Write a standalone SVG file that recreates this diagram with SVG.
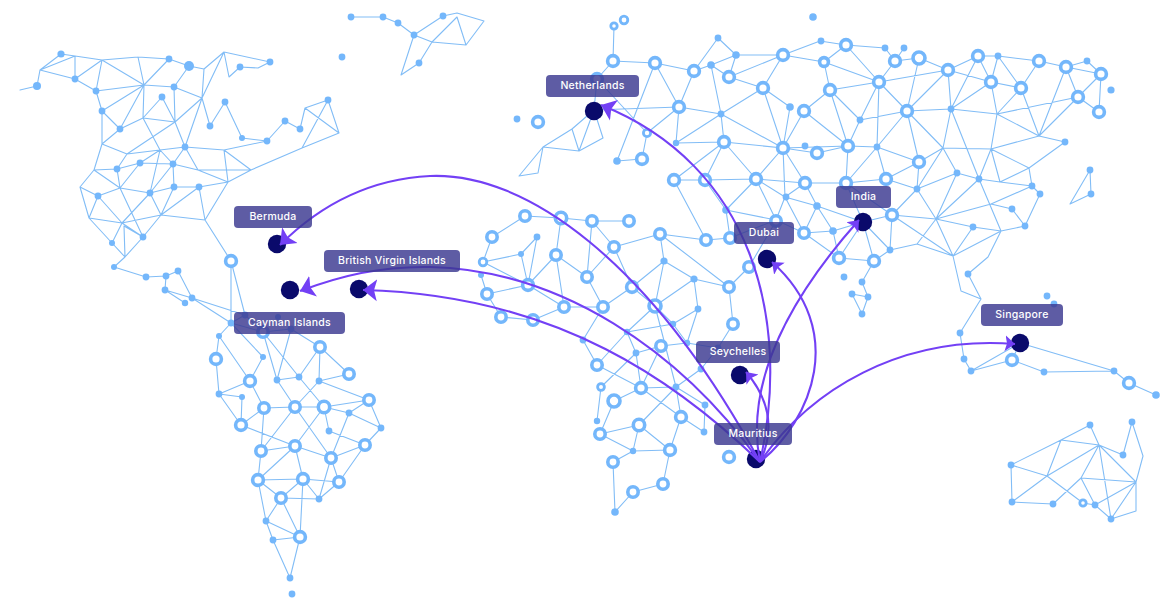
<svg xmlns="http://www.w3.org/2000/svg" width="1173" height="615" viewBox="0 0 1173 615">
<defs>
<style>
.l{fill:none;stroke:#82bdf6;stroke-width:1.1;stroke-linejoin:round;stroke-linecap:round}
.d{fill:#74b7fb}
.r{fill:#fff;stroke:#74b7fb;stroke-width:3.6}
.s{fill:#fff;stroke:#74b7fb;stroke-width:2.8}
.p{fill:#0a0a6b}
.a{fill:none;stroke:#7340f5;stroke-width:2.1}
.b{fill:#3a3890;fill-opacity:.82}
.t{fill:#fff;font-family:Inter,"Open Sans",sans-serif;font-size:10.5px;font-weight:500;text-anchor:middle;letter-spacing:.25px}
</style>
<marker id="big" markerUnits="userSpaceOnUse" markerWidth="15" markerHeight="24" viewBox="0 0 15 24" refX="14" refY="12" orient="auto"><path d="M0 1L14 12L0 23L3 12Z" fill="#7340f5"/></marker>
<marker id="small" markerUnits="userSpaceOnUse" markerWidth="11" markerHeight="18" viewBox="0 0 11 18" refX="10" refY="9" orient="auto"><path d="M0 1L10 9L0 17L2 9Z" fill="#7340f5"/></marker>
</defs>
<g id="map">
<path class="l" d="M20 90L37 86L40 70L61 54L75 56L40 70L75 79L75 56M75 79L102 60L75 56M75 79L96 91L102 60L138 57L169 59L189 66L204 69L202 98L224 52L229 77L240 67L258 68L270 62L224 52L204 69M102 60L144 85L138 57M96 91L144 85L102 111L96 91M120 129L144 85L169 59M144 85L174 87L189 66M174 87L202 98L175 122L174 87M144 85L143 118L162 97L175 122L143 118L120 129L102 111L102 144L120 129M202 98L210 126L225 102L242 138L267 141L285 121L300 129L305 108L328 100L339 133L305 108M328 100L302 148L339 133M302 148L251 170L228 182L224 150L251 170L198 170L228 182M185 147L224 150L267 141M202 98L185 147L175 122L127 154L160 150L185 147L173 164L198 170L185 147M143 118L160 150L173 164M102 144L127 154L117 169L94 170L102 144M94 170L80 187L89 218L98 196L80 187M117 169L140 163L160 150M140 163L173 164L198 170M117 169L120 188L140 163M94 170L120 188L150 193L160 150M173 164L150 193L174 187L173 164M150 193L122 223L161 215L150 193M174 187L199 187L228 182L205 220L161 215L174 187M199 187L205 220L231 261M199 187L161 215L143 237L125 257L112 243L122 223L143 237L120 188L98 196L122 223L89 218L112 243M124 226L143 237M124 226L125 257L114 267L146 277L166 276L178 271L192 298L165 290L166 276M165 290L185 303"/>
<path class="l" d="M351 17L383 17L398 23L414 35L443 16L457 13L484 21L466 45L457 17L432 42L466 45M414 35L432 42L419 63L401 75L414 35"/>
<path class="l" d="M231 261L231 323L245 315L231 261M192 298L245 315M192 298L231 323L219 336L216 359L219 394L250 381L219 336M231 323L263 357L250 381L264 408L241 425L219 394L242 397L241 425L295 446L331 458L295 407L264 408L261 451L295 446L258 480L261 451L295 407L277 380L263 332L299 377L277 380L291 329L263 332L231 323M245 315L263 332M291 329L320 347L299 377L324 407L295 407L319 381L320 347L349 374L319 381L369 400L324 407L295 446M324 407L349 413L369 400L381 428L349 413L331 458L365 445L381 428M324 407L329 431L365 445L339 482L331 458L319 499L339 482L303 479L295 446M258 480L303 479L281 498L258 480L266 521L273 540L300 537L281 498L319 499L303 479L300 537L290 578L273 540M281 498L266 521L300 537"/>
<path class="l" d="M525 216L561 218L592 221L629 221M525 216L492 237L483 262L521 254L537 237L528 285L521 254M483 262L528 285L487 294L481 275M528 285L556 255L561 218M592 221L587 277L556 255L564 307L528 285M564 307L603 307L587 277L614 247L592 221M614 247L660 234L706 240L730 238M614 247L632 287L603 307L583 340L597 365L641 388L636 353L627 332L597 365M632 287L664 261L660 234L729 287L694 279L664 261L655 306L694 279L698 309L673 324L655 306L632 287M729 287L733 324L718 348L701 369L676 387L641 388L661 346L636 353L601 387L597 421M729 287L749 267L776 221M564 307L533 320L501 317L487 294M627 332L673 324L687 343L698 309M627 332L655 306L676 387L705 405L704 432L681 417L676 387L639 425L600 434L614 401L641 388L681 417L670 450L633 451L639 425L670 450L663 484L633 492L615 512L613 462L633 451L600 434M687 343L661 346M687 343L718 348M639 425L676 387"/>
<path class="l" d="M614 26L613 61L655 63L694 71L711 65L736 55L783 55L820 41L846 45L879 82L824 62L846 45M718 38L694 71L679 107L655 63L617 161L642 159L647 133L679 107L594 110L597 79L613 61M718 38L736 55L729 77L783 55L824 62L830 90L879 82L895 61L885 48L846 45M711 65L729 77L763 88L783 55M783 148L763 88L721 114L711 65M679 107L721 114L724 142L676 143L679 107M721 114L676 143M721 114L783 148L724 142L674 180L705 180L724 142L756 179L705 180L726 210L756 179L805 183L783 148L756 179L776 220L785 197L756 179M783 148L785 197L805 183L817 206L785 197L804 233L817 206L833 231L804 233L776 220M674 180L706 240M726 210L730 238L776 220M726 210L776 220M763 88L790 107L783 148L804 111L830 90L860 120L848 146L804 111M830 90L848 146L817 153L783 148M848 146L846 183L877 147L848 146L783 148M594 110L579 151L603 138L594 110L572 129L579 151L543 147L572 129M543 147L519 176L538 173L543 147M597 79L647 133M895 61L904 48M895 61L919 58L948 70L879 82L907 111L948 70L978 56L951 109L948 70L991 82L978 56L998 56L1039 61L1021 88L998 56L991 82L1021 88L997 114L991 82L951 109L997 114L1039 136L1021 88M919 58L907 111L860 120L879 82L877 147L907 111L951 109L943 148L907 111L919 162L877 147L886 179L846 183L805 183M1039 61L1066 67L1087 61L1101 74L1066 67L1078 97L1101 74L1099 112L1078 97L997 114M1066 67L1039 136L1078 97M1039 136L1065 142L1029 168L991 149L1039 136M1029 168L1000 182L979 179L991 149L943 148L919 162L917 189L943 148L957 173L979 179L951 109M997 114L991 149L1000 182L1032 186L1029 168M1032 186L1040 194L1025 226L1012 209L991 204L1032 186M886 179L919 162M886 179L917 189L892 215L846 183L863 222L892 215L890 250L917 244L953 256L892 215M917 189L957 173L936 219L917 189M936 219L979 179L1001 231L973 227L936 219L991 204M936 219L892 215M936 219L917 244M936 219L953 256L973 227M953 256L1001 231L1025 226M1001 231L988 257L968 274L981 299L961 291L953 256M981 299L960 333L964 359L971 371L1012 360L1044 372L1114 371L1129 383L1156 395M971 371L1020 343L1114 371M1012 360L1020 343M817 206L863 222L833 231M863 222L890 250L874 261L863 222L839 258L874 261L862 282M804 233L839 258M833 231L839 258M852 294L868 297L862 314L852 294M862 282L868 297M1090 170L1070 204L1091 194L1090 170"/>
<path class="l" d="M1090 425L1061 440L1011 465L1012 502L1053 504L1081 478L1136 482L1136 511L1111 519L1136 482L1143 456L1132 422L1123 455L1099 445L1090 425M1061 440L1099 445L1136 482L1095 505L1081 478L1099 445L1111 519L1095 505L1083 503L1047 476L1099 445M1061 440L1047 476L1011 465M1012 502L1047 476"/>
<g id="dots">
<circle class="d" cx="61" cy="54" r="3.6"/><circle class="d" cx="75" cy="79" r="3.4"/><circle class="d" cx="96" cy="91" r="3.4"/><circle class="d" cx="102" cy="111" r="3.4"/><circle class="d" cx="120" cy="129" r="3.4"/><circle class="d" cx="169" cy="59" r="3.4"/><circle class="d" cx="189" cy="66" r="5"/><circle class="d" cx="174" cy="87" r="3.4"/><circle class="d" cx="162" cy="97" r="3.4"/><circle class="d" cx="240" cy="67" r="3.4"/><circle class="d" cx="270" cy="62" r="3.4"/><circle class="d" cx="225" cy="102" r="3.4"/><circle class="d" cx="210" cy="126" r="3.4"/><circle class="d" cx="242" cy="138" r="3"/><circle class="d" cx="267" cy="141" r="3.4"/><circle class="d" cx="285" cy="121" r="3.4"/><circle class="d" cx="300" cy="129" r="3.4"/><circle class="d" cx="328" cy="100" r="3.4"/><circle class="d" cx="185" cy="147" r="3.4"/><circle class="d" cx="140" cy="163" r="3.4"/><circle class="d" cx="117" cy="169" r="3.4"/><circle class="d" cx="173" cy="164" r="3.4"/><circle class="d" cx="98" cy="196" r="3.4"/><circle class="d" cx="150" cy="193" r="3.4"/><circle class="d" cx="174" cy="187" r="3.4"/><circle class="d" cx="199" cy="187" r="3.4"/><circle class="d" cx="143" cy="237" r="3.4"/><circle class="d" cx="112" cy="243" r="3"/><circle class="d" cx="114" cy="267" r="3"/><circle class="d" cx="146" cy="277" r="3.4"/><circle class="d" cx="166" cy="276" r="3.4"/><circle class="d" cx="178" cy="271" r="3.4"/><circle class="d" cx="165" cy="290" r="3.4"/><circle class="d" cx="192" cy="298" r="3.4"/><circle class="d" cx="185" cy="303" r="3.2"/>
<circle class="d" cx="351" cy="17" r="3.4"/><circle class="d" cx="383" cy="17" r="3.4"/><circle class="d" cx="398" cy="23" r="3.4"/><circle class="d" cx="414" cy="35" r="3.4"/><circle class="d" cx="443" cy="16" r="3.4"/><circle class="d" cx="419" cy="63" r="3.4"/><circle class="d" cx="342" cy="57" r="3.4"/>
<circle class="d" cx="245" cy="315" r="3.4"/><circle class="d" cx="231" cy="323" r="3.4"/><circle class="d" cx="219" cy="336" r="3"/><circle class="d" cx="278" cy="317" r="3"/><circle class="d" cx="291" cy="329" r="3.4"/><circle class="d" cx="263" cy="357" r="3"/><circle class="d" cx="299" cy="377" r="3.4"/><circle class="d" cx="277" cy="380" r="3.4"/><circle class="d" cx="319" cy="381" r="3.4"/><circle class="d" cx="219" cy="394" r="3.4"/><circle class="d" cx="242" cy="397" r="3"/><circle class="d" cx="349" cy="413" r="3.4"/><circle class="d" cx="329" cy="431" r="3.4"/><circle class="d" cx="381" cy="428" r="3.4"/><circle class="d" cx="319" cy="499" r="3.4"/><circle class="d" cx="266" cy="521" r="3.4"/><circle class="d" cx="273" cy="540" r="3.4"/><circle class="d" cx="290" cy="578" r="3.4"/><circle class="d" cx="292" cy="594" r="3.4"/>
<circle class="d" cx="537" cy="237" r="3.4"/><circle class="d" cx="521" cy="254" r="3"/><circle class="d" cx="481" cy="275" r="3"/><circle class="d" cx="664" cy="261" r="3.6"/><circle class="d" cx="694" cy="279" r="3.6"/><circle class="d" cx="698" cy="309" r="3.4"/><circle class="d" cx="673" cy="324" r="3.2"/><circle class="d" cx="627" cy="332" r="3.2"/><circle class="d" cx="583" cy="340" r="3.4"/><circle class="d" cx="687" cy="343" r="3.2"/><circle class="d" cx="636" cy="353" r="3.4"/><circle class="d" cx="718" cy="348" r="3.4"/><circle class="d" cx="701" cy="369" r="3.4"/><circle class="d" cx="676" cy="387" r="3.4"/><circle class="d" cx="705" cy="405" r="3.4"/><circle class="d" cx="704" cy="432" r="3.4"/><circle class="d" cx="597" cy="421" r="3.2"/><circle class="d" cx="633" cy="451" r="3.2"/><circle class="d" cx="615" cy="512" r="3.8"/>
<circle class="d" cx="813" cy="17" r="3.8"/><circle class="d" cx="718" cy="38" r="3.4"/><circle class="d" cx="736" cy="55" r="3.8"/><circle class="d" cx="711" cy="65" r="3.8"/><circle class="d" cx="821" cy="41" r="3.4"/><circle class="d" cx="517" cy="119" r="3.4"/><circle class="d" cx="790" cy="107" r="3.8"/><circle class="d" cx="721" cy="114" r="3.4"/><circle class="d" cx="676" cy="143" r="3.2"/><circle class="d" cx="805" cy="146" r="3.4"/><circle class="d" cx="617" cy="161" r="3.8"/><circle class="d" cx="786" cy="197" r="3.4"/><circle class="d" cx="817" cy="206" r="3.8"/><circle class="d" cx="726" cy="210" r="3.8"/><circle class="d" cx="885" cy="48" r="3.4"/><circle class="d" cx="904" cy="48" r="3.4"/><circle class="d" cx="998" cy="56" r="3.4"/><circle class="d" cx="1087" cy="61" r="3.4"/><circle class="d" cx="1111" cy="90" r="3.6"/><circle class="d" cx="860" cy="120" r="3.4"/><circle class="d" cx="951" cy="109" r="3.4"/><circle class="d" cx="877" cy="147" r="3.4"/><circle class="d" cx="1065" cy="142" r="3.4"/><circle class="d" cx="957" cy="173" r="3.4"/><circle class="d" cx="979" cy="179" r="3.4"/><circle class="d" cx="1090" cy="170" r="3.4"/><circle class="d" cx="1091" cy="194" r="3.4"/><circle class="d" cx="1032" cy="186" r="3.4"/><circle class="d" cx="1040" cy="194" r="3.4"/><circle class="d" cx="917" cy="189" r="3.4"/><circle class="d" cx="1012" cy="209" r="3.4"/><circle class="d" cx="1025" cy="226" r="3.4"/><circle class="d" cx="973" cy="227" r="3.4"/><circle class="d" cx="833" cy="231" r="3.8"/><circle class="d" cx="890" cy="250" r="3.4"/><circle class="d" cx="844" cy="277" r="3.4"/><circle class="d" cx="862" cy="282" r="3.4"/><circle class="d" cx="852" cy="294" r="3.4"/><circle class="d" cx="868" cy="297" r="3.4"/><circle class="d" cx="862" cy="314" r="3.4"/><circle class="d" cx="968" cy="274" r="3.4"/><circle class="d" cx="1047" cy="296" r="3.4"/><circle class="d" cx="1054" cy="304" r="3.4"/><circle class="d" cx="960" cy="333" r="3.4"/><circle class="d" cx="964" cy="359" r="3.4"/><circle class="d" cx="971" cy="371" r="3.4"/><circle class="d" cx="1044" cy="372" r="3.4"/><circle class="d" cx="1114" cy="371" r="3.4"/><circle class="d" cx="1156" cy="395" r="3.8"/>
<circle class="d" cx="1090" cy="425" r="3.4"/><circle class="d" cx="1132" cy="422" r="3.4"/><circle class="d" cx="1123" cy="455" r="3.4"/><circle class="d" cx="1011" cy="465" r="3.4"/><circle class="d" cx="1012" cy="502" r="3.4"/><circle class="d" cx="1053" cy="504" r="3.4"/><circle class="d" cx="1095" cy="505" r="3.4"/><circle class="d" cx="1111" cy="519" r="3.4"/><circle class="d" cx="37" cy="86" r="4"/>
</g>
<g id="rings">
<circle class="r" cx="231" cy="261" r="5.4"/><circle class="r" cx="263" cy="332" r="5.2"/><circle class="r" cx="216" cy="359" r="5.4"/><circle class="r" cx="320" cy="347" r="5.2"/><circle class="r" cx="250" cy="381" r="5.4"/><circle class="r" cx="349" cy="374" r="5.2"/><circle class="r" cx="295" cy="407" r="5.2"/><circle class="r" cx="264" cy="408" r="5.2"/><circle class="r" cx="324" cy="407" r="5.7"/><circle class="r" cx="369" cy="400" r="5.2"/><circle class="r" cx="241" cy="425" r="5.4"/><circle class="r" cx="295" cy="446" r="5.2"/><circle class="r" cx="261" cy="451" r="5.2"/><circle class="r" cx="331" cy="458" r="5.2"/><circle class="r" cx="365" cy="445" r="5.2"/><circle class="r" cx="258" cy="480" r="5.4"/><circle class="r" cx="303" cy="479" r="5.4"/><circle class="r" cx="339" cy="482" r="5.2"/><circle class="r" cx="281" cy="498" r="5.2"/><circle class="r" cx="300" cy="537" r="5.4"/>
<circle class="r" cx="525" cy="216" r="5.2"/><circle class="r" cx="561" cy="218" r="5.7"/><circle class="r" cx="592" cy="221" r="5.2"/><circle class="r" cx="629" cy="221" r="5.2"/><circle class="r" cx="492" cy="237" r="5.2"/><circle class="r" cx="660" cy="234" r="5.2"/><circle class="r" cx="706" cy="240" r="5.2"/><circle class="r" cx="614" cy="247" r="5.2"/><circle class="r" cx="730" cy="238" r="5.2"/><circle class="r" cx="776" cy="221" r="5.2"/><circle class="r" cx="804" cy="233" r="5.2"/><circle class="r" cx="556" cy="255" r="5.2"/><circle class="s" cx="483" cy="262" r="3.8"/><circle class="r" cx="587" cy="277" r="5.2"/><circle class="r" cx="528" cy="285" r="5.4"/><circle class="r" cx="632" cy="287" r="5.4"/><circle class="r" cx="729" cy="287" r="5.2"/><circle class="r" cx="749" cy="267" r="5.2"/><circle class="r" cx="487" cy="294" r="5.2"/><circle class="r" cx="655" cy="306" r="6"/><circle class="r" cx="564" cy="307" r="5.2"/><circle class="r" cx="603" cy="307" r="5.2"/><circle class="r" cx="501" cy="317" r="5.2"/><circle class="r" cx="533" cy="320" r="5.2"/><circle class="r" cx="733" cy="324" r="5.2"/><circle class="r" cx="661" cy="346" r="5.2"/><circle class="r" cx="597" cy="365" r="5.2"/><circle class="s" cx="601" cy="387" r="3.4"/><circle class="r" cx="641" cy="388" r="5.4"/><circle class="r" cx="614" cy="401" r="6"/><circle class="r" cx="681" cy="417" r="5.4"/><circle class="r" cx="639" cy="425" r="5.7"/><circle class="r" cx="600" cy="434" r="5.2"/><circle class="r" cx="670" cy="450" r="5.4"/><circle class="r" cx="613" cy="462" r="5.2"/><circle class="r" cx="663" cy="484" r="5.2"/><circle class="r" cx="633" cy="492" r="5.2"/><circle class="r" cx="729" cy="457" r="5.4"/>
<circle class="s" cx="624" cy="20" r="3.8"/><circle class="s" cx="614" cy="26" r="3.2"/><circle class="r" cx="613" cy="61" r="5.4"/><circle class="r" cx="655" cy="63" r="5.4"/><circle class="r" cx="694" cy="71" r="5.4"/><circle class="r" cx="783" cy="55" r="5.4"/><circle class="r" cx="824" cy="62" r="4.4"/><circle class="r" cx="729" cy="77" r="5.4"/><circle class="r" cx="763" cy="88" r="5.4"/><circle class="r" cx="830" cy="90" r="5.4"/><circle class="r" cx="597" cy="79" r="5.4"/><circle class="r" cx="679" cy="107" r="5.4"/><circle class="r" cx="804" cy="111" r="5.4"/><circle class="r" cx="538" cy="122" r="5.4"/><circle class="s" cx="647" cy="133" r="3.6"/><circle class="r" cx="724" cy="142" r="5.4"/><circle class="r" cx="783" cy="148" r="5.4"/><circle class="r" cx="817" cy="153" r="5.4"/><circle class="r" cx="642" cy="159" r="5.4"/><circle class="r" cx="674" cy="180" r="5.4"/><circle class="r" cx="705" cy="180" r="5.4"/><circle class="r" cx="756" cy="179" r="5.4"/><circle class="r" cx="805" cy="183" r="5.4"/>
<circle class="r" cx="846" cy="45" r="5.4"/><circle class="r" cx="895" cy="61" r="5.4"/><circle class="r" cx="919" cy="58" r="6"/><circle class="r" cx="948" cy="70" r="5.4"/><circle class="r" cx="978" cy="56" r="5.4"/><circle class="r" cx="991" cy="82" r="5.4"/><circle class="r" cx="1021" cy="88" r="5.4"/><circle class="r" cx="1039" cy="61" r="5.4"/><circle class="r" cx="1066" cy="67" r="5.4"/><circle class="r" cx="1101" cy="74" r="5.4"/><circle class="r" cx="1078" cy="97" r="5.4"/><circle class="r" cx="1099" cy="112" r="5.4"/><circle class="r" cx="879" cy="82" r="5.4"/><circle class="r" cx="907" cy="111" r="5.4"/><circle class="r" cx="848" cy="146" r="5.4"/><circle class="r" cx="919" cy="162" r="5.4"/><circle class="r" cx="886" cy="179" r="5.4"/><circle class="r" cx="846" cy="183" r="5.4"/><circle class="r" cx="892" cy="215" r="5.4"/><circle class="r" cx="839" cy="258" r="5.4"/><circle class="r" cx="874" cy="261" r="5.4"/><circle class="r" cx="1012" cy="360" r="5.4"/><circle class="r" cx="1129" cy="383" r="5.4"/><circle class="s" cx="1083" cy="503" r="3.2"/>
</g>
</g>
<g id="nodes">
<g id="node-netherlands"><circle class="p" cx="594" cy="111" r="9.2"/></g>
<g id="node-bermuda"><circle class="p" cx="277" cy="244" r="9.2"/></g>
<g id="node-cayman-islands"><circle class="p" cx="290" cy="290" r="9.2"/></g>
<g id="node-british-virgin-islands"><circle class="p" cx="359" cy="289" r="9.2"/></g>
<g id="node-dubai"><circle class="p" cx="767" cy="259" r="9.2"/></g>
<g id="node-india"><circle class="p" cx="863" cy="222" r="9.2"/></g>
<g id="node-seychelles"><circle class="p" cx="740" cy="375" r="9.2"/></g>
<g id="node-mauritius"><circle class="p" cx="756" cy="459" r="9.2"/></g>
<g id="node-singapore"><circle class="p" cx="1020" cy="343" r="9.2"/></g>
</g>
<g id="connectors">
<path class="a" marker-end="url(#big)" d="M760 462C792 320 752 165 601 105"/>
<path class="a" marker-end="url(#big)" d="M760 462C650 260 525 172 430 176C370 179 320 205 280 245"/>
<path class="a" marker-end="url(#big)" d="M760 462C680 350 560 270 430 267C380 266 340 276 300 291"/>
<path class="a" marker-end="url(#big)" d="M760 462C680 385 560 295 363 290"/>
<path class="a" marker-end="url(#small)" d="M760 462C810 390 900 335 1015 344"/>
<path class="a" marker-end="url(#small)" d="M760 462C748 400 770 320 859 220"/>
<path class="a" marker-end="url(#small)" d="M760 462C812 420 848 330 772 262"/>
<path class="a" marker-end="url(#small)" d="M760 462C775 430 770 400 746 372"/>
</g>
<g id="labels">
<g id="label-netherlands"><rect class="b" x="546" y="75" width="93" height="22" rx="4"/><text class="t" x="592.5" y="89">Netherlands</text></g>
<g id="label-bermuda"><rect class="b" x="234" y="206" width="78" height="22" rx="4"/><text class="t" x="273" y="220">Bermuda</text></g>
<g id="label-british-virgin-islands"><rect class="b" x="324" y="250" width="136" height="22" rx="4"/><text class="t" x="392" y="264">British Virgin Islands</text></g>
<g id="label-cayman-islands"><rect class="b" x="234" y="312" width="111" height="22" rx="4"/><text class="t" x="289.5" y="326">Cayman Islands</text></g>
<g id="label-dubai"><rect class="b" x="734" y="222" width="60" height="22" rx="4"/><text class="t" x="764" y="236">Dubai</text></g>
<g id="label-india"><rect class="b" x="836" y="186" width="55" height="22" rx="4"/><text class="t" x="863.5" y="200">India</text></g>
<g id="label-seychelles"><rect class="b" x="696" y="341" width="84" height="22" rx="4"/><text class="t" x="738" y="355">Seychelles</text></g>
<g id="label-mauritius"><rect class="b" x="714" y="423" width="78" height="22" rx="4"/><text class="t" x="753" y="437">Mauritius</text></g>
<g id="label-singapore"><rect class="b" x="981" y="304" width="82" height="22" rx="4"/><text class="t" x="1022" y="318">Singapore</text></g>
</g>
</svg>
